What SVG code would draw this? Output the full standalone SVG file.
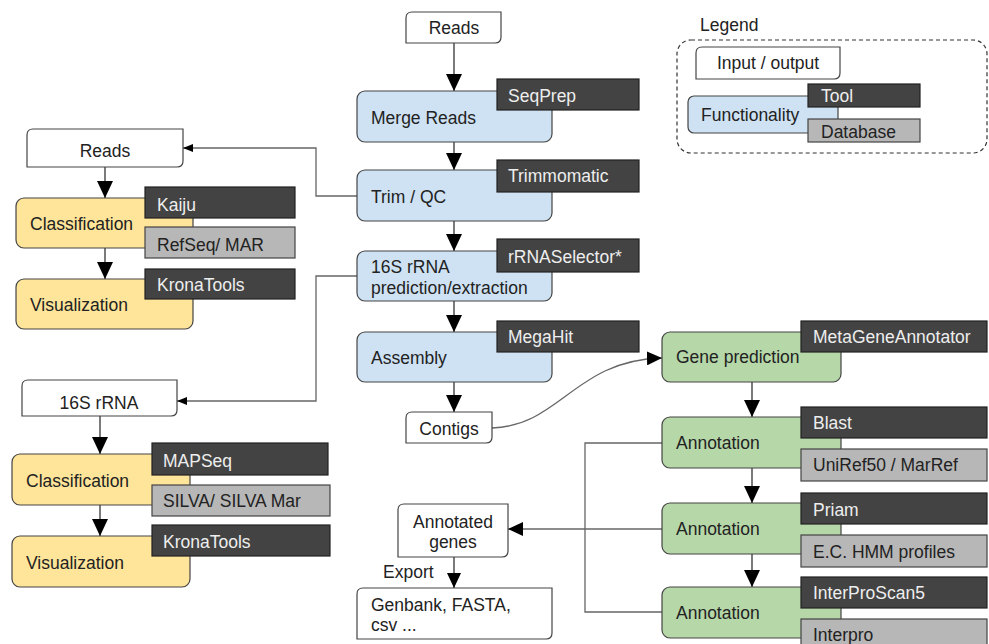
<svg xmlns="http://www.w3.org/2000/svg" width="989" height="644" viewBox="0 0 989 644">
<defs>
<style>
text{font-family:"Liberation Sans",Arial,sans-serif;font-size:17.5px;fill:#222}
.io{fill:#fff;stroke:#444;stroke-width:1.2}
.blue{fill:#cfe2f3;stroke:#444;stroke-width:1.2}
.yel{fill:#ffe599;stroke:#444;stroke-width:1.2}
.grn{fill:#b6d7a8;stroke:#444;stroke-width:1.2}
.tool{fill:#434343;stroke:#222;stroke-width:1.2}
.db{fill:#b7b7b7;stroke:#444;stroke-width:1.2}
.tt{fill:#eeeeee}
.c{text-anchor:middle}
.ln{fill:none;stroke:#333;stroke-width:1.3}
.gl{fill:none;stroke:#666;stroke-width:1.3}
</style>
<marker id="big" markerUnits="userSpaceOnUse" markerWidth="17" markerHeight="16" refX="17" refY="8" orient="auto"><path d="M0,0 L17,8 L0,16 Z" fill="#000"/></marker>
<marker id="med" markerUnits="userSpaceOnUse" markerWidth="15" markerHeight="14" refX="15" refY="7" orient="auto"><path d="M0,0 L15,7 L0,14 Z" fill="#000"/></marker>
<marker id="sm" markerUnits="userSpaceOnUse" markerWidth="10" markerHeight="8" refX="10" refY="4" orient="auto"><path d="M0,0 L10,4 L0,8 Z" fill="#000"/></marker>
</defs>

<g id="connectors">
<path class="ln" d="M454,43 V91" marker-end="url(#big)"/>
<path class="ln" d="M454,142 V170" marker-end="url(#big)"/>
<path class="ln" d="M454,221 V251" marker-end="url(#big)"/>
<path class="ln" d="M454,301 V332" marker-end="url(#big)"/>
<path class="ln" d="M454,382 V412" marker-end="url(#big)"/>
<path class="gl" d="M357,196 H316 V148 H183" marker-end="url(#sm)"/>
<path class="gl" d="M357,276 H316 V401 H177" marker-end="url(#sm)"/>
<path class="ln" d="M105,167 V198" marker-end="url(#big)"/>
<path class="ln" d="M105,248 V279" marker-end="url(#big)"/>
<path class="ln" d="M100,416 V454" marker-end="url(#big)"/>
<path class="ln" d="M100,505 V536" marker-end="url(#big)"/>
<path class="gl" d="M492,428 C560,426 575,360 662,358" marker-end="url(#med)"/>
<path class="ln" d="M752,382 V417" marker-end="url(#big)"/>
<path class="ln" d="M752,468 V503" marker-end="url(#big)"/>
<path class="ln" d="M752,554 V587" marker-end="url(#big)"/>
<path class="gl" d="M662,443 H585 V612 H662"/>
<path class="gl" d="M662,529 H508" marker-end="url(#med)"/>
<path class="ln" d="M454,557 V588" marker-end="url(#med)"/>
</g>

<g id="legend">
<text x="700" y="31">Legend</text>
<rect x="677" y="40" width="310" height="113" rx="14" fill="none" stroke="#333" stroke-width="1.2" stroke-dasharray="4,3"/>
<path class="io" d="M702,47 H840 V73 Q840,79 834,79 H696 V53 Q696,47 702,47 Z"/>
<text class="c" x="768" y="69">Input / output</text>
<rect class="blue" x="688" y="96" width="150" height="37" rx="6"/>
<text x="701" y="121">Functionality</text>
<rect class="tool" x="808" y="84" width="112" height="23"/>
<text class="tt" x="821" y="102">Tool</text>
<rect class="db" x="808" y="119" width="112" height="23"/>
<text x="821" y="138">Database</text>
</g>

<g id="reads-top">
<path class="io" d="M412,12 H501 V37 Q501,43 495,43 H406 V18 Q406,12 412,12 Z"/>
<text class="c" x="454" y="34">Reads</text>
</g>
<g id="merge-reads">
<rect class="blue" x="357" y="91" width="195" height="51" rx="8"/>
<text x="371" y="124">Merge Reads</text>
<rect class="tool" x="497" y="79" width="142" height="31"/>
<text class="tt" x="508" y="102">SeqPrep</text>
</g>
<g id="trim-qc">
<rect class="blue" x="357" y="170" width="195" height="51" rx="8"/>
<text x="371" y="203">Trim / QC</text>
<rect class="tool" x="497" y="160" width="142" height="32"/>
<text class="tt" x="508" y="182">Trimmomatic</text>
</g>
<g id="rrna-pred">
<rect class="blue" x="357" y="251" width="195" height="50" rx="8"/>
<text x="371" y="273">16S rRNA</text>
<text x="371" y="294">prediction/extraction</text>
<rect class="tool" x="497" y="239" width="142" height="33"/>
<text class="tt" x="508" y="263">rRNASelector*</text>
</g>
<g id="assembly">
<rect class="blue" x="357" y="332" width="195" height="50" rx="8"/>
<text x="371" y="364">Assembly</text>
<rect class="tool" x="497" y="321" width="142" height="31"/>
<text class="tt" x="508" y="343">MegaHit</text>
</g>
<g id="contigs">
<path class="io" d="M412,412 H492 V437 Q492,443 486,443 H406 V418 Q406,412 412,412 Z"/>
<text class="c" x="449" y="435">Contigs</text>
</g>

<g id="reads-left">
<path class="io" d="M33,129 H183 V161 Q183,167 177,167 H27 V135 Q27,129 33,129 Z"/>
<text class="c" x="105" y="157">Reads</text>
</g>
<g id="classification-1">
<rect class="yel" x="16" y="198" width="177" height="50" rx="8"/>
<text x="30" y="230">Classification</text>
<rect class="tool" x="145" y="187" width="150" height="31"/>
<text class="tt" x="157" y="211">Kaiju</text>
<rect class="db" x="145" y="227" width="150" height="31"/>
<text x="157" y="251">RefSeq/ MAR</text>
</g>
<g id="visualization-1">
<rect class="yel" x="16" y="279" width="177" height="50" rx="8"/>
<text x="30" y="311">Visualization</text>
<rect class="tool" x="145" y="269" width="150" height="30"/>
<text class="tt" x="157" y="291">KronaTools</text>
</g>

<g id="rrna-left">
<path class="io" d="M28,380 H177 V410 Q177,416 171,416 H22 V386 Q22,380 28,380 Z"/>
<text class="c" x="99" y="409">16S rRNA</text>
</g>
<g id="classification-2">
<rect class="yel" x="12" y="454" width="178" height="51" rx="8"/>
<text x="26" y="487">Classification</text>
<rect class="tool" x="152" y="443" width="176" height="32"/>
<text class="tt" x="163" y="467">MAPSeq</text>
<rect class="db" x="152" y="485" width="178" height="31"/>
<text x="163" y="507">SILVA/ SILVA Mar</text>
</g>
<g id="visualization-2">
<rect class="yel" x="12" y="536" width="178" height="51" rx="8"/>
<text x="26" y="569">Visualization</text>
<rect class="tool" x="152" y="525" width="178" height="31"/>
<text class="tt" x="163" y="548">KronaTools</text>
</g>

<g id="gene-prediction">
<rect class="grn" x="662" y="332" width="179" height="50" rx="8"/>
<text x="676" y="363">Gene prediction</text>
<rect class="tool" x="801" y="321" width="186" height="31"/>
<text class="tt" x="813" y="343">MetaGeneAnnotator</text>
</g>
<g id="annotation-1">
<rect class="grn" x="662" y="417" width="179" height="51" rx="8"/>
<text x="676" y="449">Annotation</text>
<rect class="tool" x="801" y="407" width="186" height="31"/>
<text class="tt" x="813" y="429">Blast</text>
<rect class="db" x="801" y="449" width="186" height="32"/>
<text x="813" y="471">UniRef50 / MarRef</text>
</g>
<g id="annotation-2">
<rect class="grn" x="662" y="503" width="179" height="51" rx="8"/>
<text x="676" y="535">Annotation</text>
<rect class="tool" x="801" y="493" width="186" height="31"/>
<text class="tt" x="813" y="516">Priam</text>
<rect class="db" x="801" y="535" width="186" height="32"/>
<text x="813" y="558">E.C. HMM profiles</text>
</g>
<g id="annotation-3">
<rect class="grn" x="662" y="587" width="179" height="51" rx="8"/>
<text x="676" y="619">Annotation</text>
<rect class="tool" x="801" y="577" width="186" height="31"/>
<text class="tt" x="813" y="599">InterProScan5</text>
<rect class="db" x="801" y="619" width="186" height="31"/>
<text x="813" y="641">Interpro</text>
</g>

<g id="annotated-genes">
<path class="io" d="M404,504 H508 V551 Q508,557 502,557 H398 V510 Q398,504 404,504 Z"/>
<text class="c" x="453" y="528">Annotated</text>
<text class="c" x="453" y="548">genes</text>
</g>
<g id="export-label">
<text x="383" y="578">Export</text>
</g>
<g id="genbank">
<path class="io" d="M363,588 H552 V633 Q552,639 546,639 H357 V594 Q357,588 363,588 Z"/>
<text x="371" y="611">Genbank, FASTA,</text>
<text x="371" y="631">csv ...</text>
</g>
</svg>
